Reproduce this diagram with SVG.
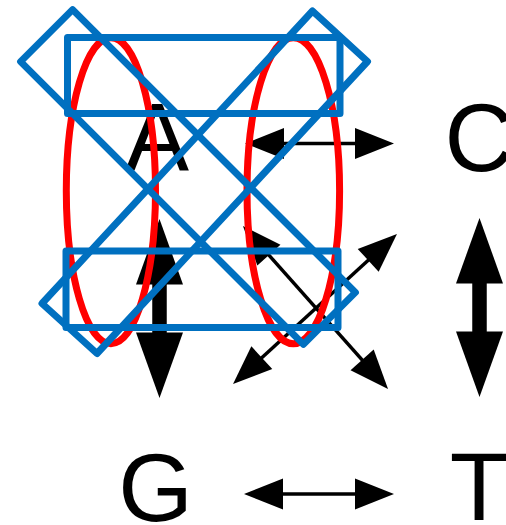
<svg xmlns="http://www.w3.org/2000/svg" width="506" height="525" viewBox="0 0 506 525">
  <style>
    .base { font-family: "Liberation Sans", Arial, sans-serif; font-size: 96px; fill: #000; }
    .thin { stroke: #000; stroke-width: 3.5; fill: none; marker-start: url(#head); marker-end: url(#head); }
    .thick { stroke: #000; stroke-width: 14.5; fill: none; marker-start: url(#bighead); marker-end: url(#bighead); }
    .ring { fill: none; stroke: #ff0000; stroke-width: 7; }
    .box { fill: none; stroke: #0070c0; stroke-width: 7; stroke-linejoin: round; }
  </style>
  <defs>
    <marker id="head" markerUnits="userSpaceOnUse" orient="auto-start-reverse" markerWidth="1" markerHeight="1" refX="0" refY="0" overflow="visible">
      <path d="M-3,-15.5 L36,0 L-3,15.5 Z" fill="#000"/>
    </marker>
    <marker id="bighead" markerUnits="userSpaceOnUse" orient="auto-start-reverse" markerWidth="1" markerHeight="1" refX="0" refY="0" overflow="visible">
      <path d="M-3,-23.5 L62.5,0 L-3,23.5 Z" fill="#000"/>
    </marker>
  </defs>

  <!-- bases -->
  <g id="node-A"><text class="base" x="157" y="170" text-anchor="middle">A</text></g>
  <g id="node-C"><text class="base" x="444.6" y="170.5">C</text></g>
  <g id="node-G"><text class="base" x="118.3" y="520.5">G</text></g>
  <g id="node-T"><text class="base" x="449.8" y="520">T</text></g>

  <!-- substitutions -->
  <g id="connectors">
    <line class="thin" x1="281" y1="143.5" x2="358" y2="143.5"/>
    <line class="thin" x1="280" y1="494" x2="358" y2="494"/>
    <line class="thin" x1="266.9" y1="252.9" x2="364.1" y2="362.1"/>
    <line class="thin" x1="259.6" y1="359.7" x2="370.4" y2="258.3"/>
    <line class="thick" x1="159.5" y1="281.5" x2="159.5" y2="335.5"/>
    <line class="thick" x1="479.5" y1="280.5" x2="479.5" y2="334.5"/>
  </g>

  <!-- red outlines -->
  <g id="rings">
    <ellipse class="ring" cx="110.9" cy="190.7" rx="44.6" ry="153"/>
    <ellipse class="ring" cx="293.3" cy="190.7" rx="46.3" ry="153"/>
  </g>

  <!-- blue outlines -->
  <g id="boxes">
    <rect class="box" x="67.5" y="37.5" width="272.5" height="76"/>
    <rect class="box" x="66" y="251" width="272" height="76.5"/>
    <polygon class="box" points="72.6,9.6 355.4,292.4 303.4,344.4 20.6,61.6"/>
    <polygon class="box" points="312.5,11 367.5,61.5 97,353.5 42,303.5"/>
  </g>
</svg>
